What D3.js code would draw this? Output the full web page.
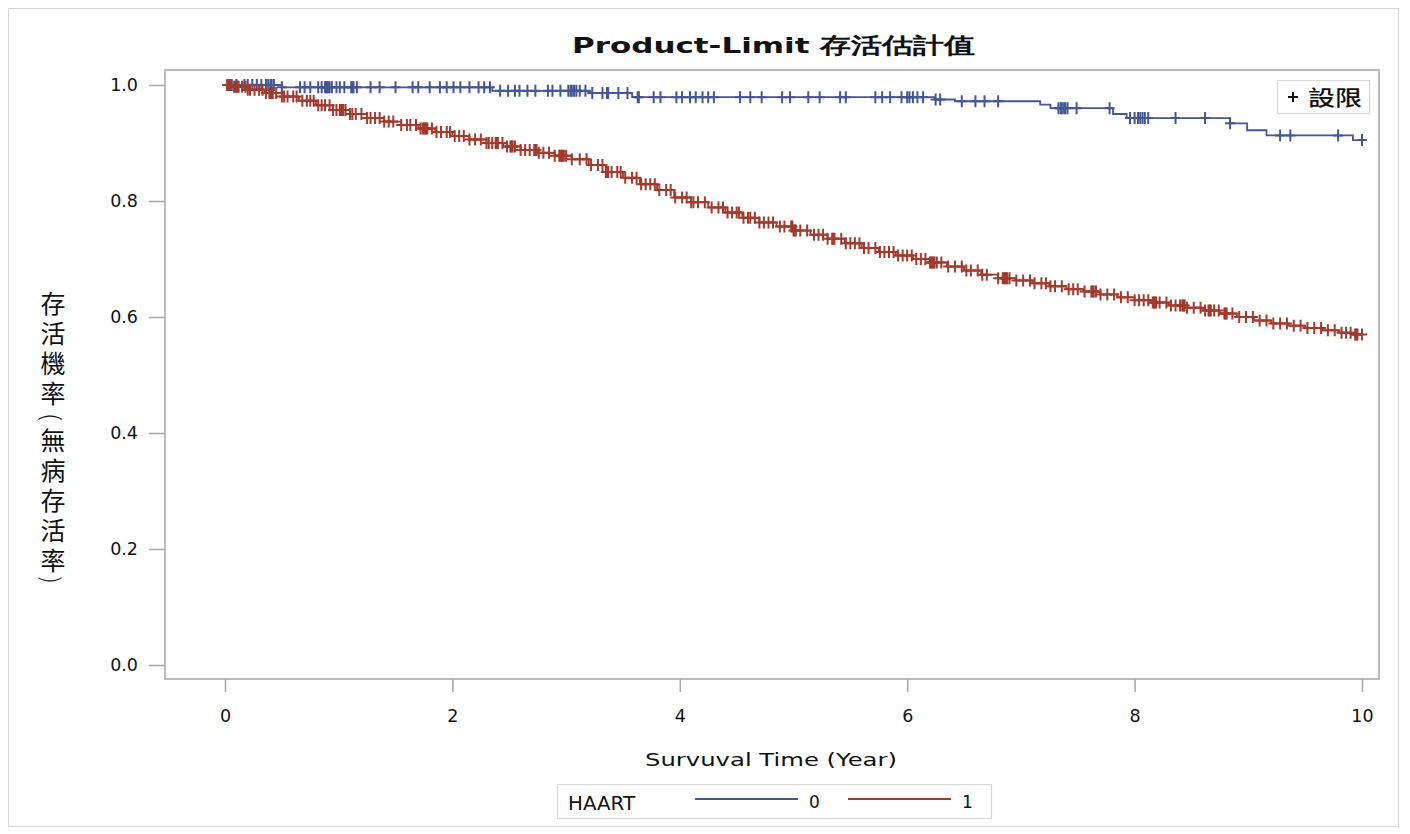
<!DOCTYPE html>
<html><head><meta charset="utf-8">
<script src="https://cdn.jsdelivr.net/npm/d3@7"></script>
<style>body{margin:0;background:#fff}svg{display:block}</style>
</head><body>
<svg id="chart" width="1410" height="834"></svg>
<script>
// ---- data ----
const title = "Product-Limit 存活估計值";
const xLabel = "Survuval Time (Year)";
const yLabelMain = "存活機率";
const yLabelInner = "無病存活率";
const yLabelParens = ["(", ")"];
const xTicks = [0, 2, 4, 6, 8, 10];
const yTicks = [0.0, 0.2, 0.4, 0.6, 0.8, 1.0];
const groups = ["0", "1"];
const legendTitle = "HAART";
const censorLabel = "設限";

// HAART = 0 : step times and survival
const blueTime = [0, 0.50, 2.35, 3.21, 3.58, 6.24, 6.42, 7.17, 7.26, 7.81, 7.93, 8.84, 8.99, 9.16, 9.92, 10.0];
const blueSurv = [1.0, 0.996, 0.990, 0.986, 0.979, 0.975, 0.972, 0.966, 0.960, 0.950, 0.943, 0.934, 0.922, 0.913, 0.905, 0.905];
const blueCensor = [0.02,0.03,0.04,0.05,0.06,0.10,0.17,0.20,0.24,0.28,0.32,0.36,0.38,0.40,0.41,0.43,0.50,0.66,0.70,0.75,0.82,0.85,0.88,0.89,0.90,0.91,0.92,0.94,0.98,1.01,1.05,1.11,1.12,1.13,1.16,1.28,1.36,1.50,1.65,1.70,1.80,1.89,1.95,2.01,2.07,2.15,2.23,2.28,2.33,2.42,2.49,2.55,2.59,2.66,2.73,2.84,2.88,2.95,3.02,3.04,3.05,3.07,3.09,3.12,3.17,3.23,3.32,3.36,3.37,3.46,3.54,3.63,3.64,3.77,3.83,3.97,4.02,4.09,4.14,4.20,4.25,4.30,4.53,4.62,4.72,4.90,4.97,5.13,5.23,5.41,5.46,5.72,5.78,5.85,5.95,6.00,6.02,6.05,6.09,6.14,6.25,6.29,6.48,6.60,6.68,6.80,7.33,7.35,7.36,7.38,7.39,7.41,7.49,7.78,7.96,8.00,8.03,8.05,8.07,8.09,8.12,8.36,8.62,8.84,9.28,9.37,9.79,10.0];

// HAART = 1 : step times and survival
const redTime = [0.00,0.08,0.20,0.35,0.50,0.65,0.80,0.95,1.10,1.25,1.40,1.55,1.70,1.85,2.00,2.15,2.30,2.45,2.60,2.75,2.90,3.05,3.20,3.35,3.50,3.65,3.80,3.95,4.10,4.25,4.40,4.55,4.70,4.85,5.00,5.15,5.30,5.45,5.60,5.75,5.90,6.05,6.20,6.35,6.50,6.65,6.80,6.95,7.10,7.25,7.40,7.55,7.70,7.85,8.00,8.15,8.30,8.45,8.60,8.75,8.90,9.05,9.20,9.35,9.50,9.65,9.80,9.92,10.0];
const redSurv = [1.000,0.997,0.992,0.986,0.980,0.973,0.965,0.957,0.950,0.943,0.937,0.931,0.925,0.919,0.912,0.906,0.900,0.894,0.888,0.883,0.878,0.872,0.862,0.850,0.840,0.829,0.819,0.806,0.798,0.789,0.780,0.771,0.763,0.756,0.749,0.742,0.735,0.727,0.719,0.712,0.706,0.700,0.694,0.687,0.680,0.673,0.667,0.663,0.658,0.653,0.648,0.644,0.639,0.634,0.629,0.625,0.620,0.616,0.611,0.606,0.600,0.594,0.589,0.585,0.581,0.577,0.573,0.570,0.570];
const redCensor = [0.02,0.03,0.04,0.05,0.08,0.09,0.10,0.11,0.12,0.15,0.18,0.20,0.22,0.26,0.30,0.33,0.36,0.39,0.40,0.41,0.42,0.45,0.50,0.52,0.55,0.60,0.63,0.68,0.72,0.75,0.78,0.82,0.85,0.88,0.92,0.95,0.98,1.01,1.02,1.03,1.04,1.06,1.10,1.12,1.15,1.20,1.25,1.28,1.32,1.36,1.40,1.44,1.48,1.55,1.60,1.63,1.68,1.72,1.74,1.75,1.76,1.77,1.78,1.82,1.86,1.90,1.95,1.98,2.02,2.06,2.10,2.15,2.20,2.25,2.30,2.32,2.35,2.38,2.39,2.40,2.44,2.48,2.51,2.52,2.53,2.55,2.60,2.64,2.68,2.72,2.73,2.74,2.76,2.80,2.85,2.90,2.94,2.95,2.96,2.97,2.98,3.00,3.05,3.12,3.18,3.22,3.28,3.32,3.35,3.36,3.37,3.40,3.45,3.48,3.52,3.58,3.62,3.66,3.70,3.74,3.78,3.82,3.88,3.92,3.96,4.02,4.06,4.10,4.12,4.16,4.22,4.28,4.34,4.38,4.42,4.46,4.50,4.52,4.56,4.60,4.62,4.66,4.70,4.74,4.78,4.82,4.88,4.92,4.98,4.99,5.00,5.01,5.02,5.06,5.12,5.18,5.22,5.26,5.30,5.34,5.35,5.36,5.42,5.46,5.50,5.54,5.58,5.62,5.66,5.72,5.76,5.80,5.84,5.88,5.92,5.96,6.00,6.04,6.08,6.12,6.16,6.20,6.21,6.22,6.23,6.24,6.26,6.30,6.36,6.42,6.48,6.52,6.56,6.62,6.66,6.70,6.80,6.84,6.85,6.86,6.87,6.88,6.90,6.96,7.02,7.08,7.12,7.18,7.22,7.26,7.30,7.36,7.42,7.46,7.50,7.56,7.62,7.63,7.64,7.66,7.70,7.76,7.82,7.88,7.94,8.00,8.04,8.08,8.12,8.16,8.17,8.18,8.19,8.22,8.28,8.32,8.36,8.40,8.42,8.43,8.44,8.46,8.52,8.58,8.62,8.65,8.66,8.67,8.70,8.74,8.79,8.80,8.81,8.86,8.92,8.98,9.04,9.10,9.16,9.22,9.28,9.34,9.40,9.46,9.52,9.58,9.64,9.70,9.76,9.82,9.86,9.90,9.94,9.95,9.96,10.0];

const colors = ["#445694", "#A23A2E"];

// ---- layout ----
const svg = d3.select("#chart");
const frame = {left: 165, right: 1379, top: 70, bottom: 679};
const x = d3.scaleLinear().domain([0, 10]).range([225, 1362]);
const y = d3.scaleLinear().domain([0, 1]).range([665, 85]);
const axisCol = "#a8acaf";
const font = "'DejaVu Sans', sans-serif";
const cjk = "'Noto Sans CJK TC', 'Noto Sans CJK SC', sans-serif";

// outer border
svg.append("rect").attr("x", 8.5).attr("y", 8.5).attr("width", 1390).attr("height", 818)
  .attr("fill", "none").attr("stroke", "#d6d6d6").attr("stroke-width", 1);

// title
svg.append("text").attr("x", 572).attr("y", 53)
  .attr("font-family", font).attr("font-weight", "bold").attr("font-size", 22)
  .attr("textLength", 403).attr("lengthAdjust", "spacingAndGlyphs")
  .attr("fill", "#111").text(title);

// plot frame
svg.append("rect").attr("x", frame.left).attr("y", frame.top)
  .attr("width", frame.right - frame.left).attr("height", frame.bottom - frame.top)
  .attr("fill", "none").attr("stroke", axisCol).attr("stroke-width", 1.6);

// axes
const xAxis = d3.axisBottom(x).tickValues(xTicks).tickFormat(d3.format("d")).tickSize(13).tickSizeOuter(0);
const gx = svg.append("g").attr("transform", `translate(0,${frame.bottom})`).call(xAxis);
gx.select(".domain").remove();
gx.selectAll("line").attr("stroke", axisCol).attr("stroke-width", 1.6);
gx.selectAll("text").attr("font-family", font).attr("font-size", 17.5).attr("fill", "#111").attr("dy", null).attr("y", 43);

const yAxis = d3.axisLeft(y).tickValues(yTicks).tickFormat(d3.format(".1f")).tickSize(16).tickSizeOuter(0);
const gy = svg.append("g").attr("transform", `translate(${frame.left},0)`).call(yAxis);
gy.select(".domain").remove();
gy.selectAll("line").attr("stroke", axisCol).attr("stroke-width", 1.6);
gy.selectAll("text").attr("font-family", font).attr("font-size", 17.5).attr("fill", "#111").attr("x", -27);

// axis labels
svg.append("text").attr("x", 645).attr("y", 766)
  .attr("font-family", font).attr("font-size", 18)
  .attr("textLength", 252).attr("lengthAdjust", "spacingAndGlyphs")
  .attr("fill", "#111").text(xLabel);

// vertical y label
const ylG = svg.append("g").attr("font-family", cjk).attr("fill", "#111");
ylG.append("text").attr("x", 53).attr("y", 291).style("writing-mode", "vertical-rl")
  .attr("font-size", 25).attr("letter-spacing", 5).text(yLabelMain);
ylG.append("text").attr("x", 53).attr("y", 428).style("writing-mode", "vertical-rl")
  .attr("font-size", 25).attr("letter-spacing", 5).text(yLabelInner);
[[yLabelParens[0], 417], [yLabelParens[1], 580]].forEach(([c, cy]) => {
  ylG.append("text").attr("x", 53).attr("y", cy)
    .attr("text-anchor", "middle").attr("dominant-baseline", "central")
    .attr("font-size", 24).attr("font-weight", 300)
    .attr("transform", `rotate(90,53,${cy})`).text(c);
});

// curves
const series = [
  {time: blueTime, surv: blueSurv, censor: blueCensor, color: colors[0]},
  {time: redTime, surv: redSurv, censor: redCensor, color: colors[1]}
];
const line = d3.line().x(d => x(d[0])).y(d => y(d[1])).curve(d3.curveStepAfter);
function survAt(s, t) {
  const i = d3.bisectRight(s.time, t) - 1;
  return s.surv[Math.max(0, i)];
}
series.forEach(s => {
  const pts = s.time.map((t, i) => [t, s.surv[i]]);
  svg.append("path").datum(pts).attr("d", line)
    .attr("fill", "none").attr("stroke", s.color).attr("stroke-width", 1.8);
  svg.append("g").selectAll("path").data(s.censor).join("path")
    .attr("d", t => {
      const cx = x(t), cy = y(survAt(s, t));
      return `M${cx - 5},${cy}H${cx + 5}M${cx},${cy - 6}V${cy + 6}`;
    })
    .attr("stroke", s.color).attr("stroke-width", 2).attr("fill", "none");
});

// censor legend (top right)
svg.append("rect").attr("x", 1277.5).attr("y", 80.5).attr("width", 92).attr("height", 33)
  .attr("fill", "#fff").attr("stroke", "#d8d8d8").attr("stroke-width", 1.2);
svg.append("path").attr("d", "M1288,97H1298M1293,92V102").attr("stroke", "#111").attr("stroke-width", 2);
svg.append("text").attr("x", 1308).attr("y", 105).attr("font-family", cjk)
  .attr("font-size", 21).attr("font-weight", 500)
  .attr("textLength", 54).attr("lengthAdjust", "spacingAndGlyphs")
  .attr("fill", "#111").text(censorLabel);

// group legend (bottom)
const lg = svg.append("g");
lg.append("rect").attr("x", 557.5).attr("y", 784.5).attr("width", 434).attr("height", 34)
  .attr("fill", "#fff").attr("stroke", "#d8d8d8").attr("stroke-width", 1.2);
lg.append("text").attr("x", 568).attr("y", 810).attr("font-family", font).attr("font-size", 19)
  .attr("textLength", 67).attr("lengthAdjust", "spacingAndGlyphs")
  .attr("fill", "#111").text(legendTitle);
const lx = [695, 848];
groups.forEach((g, i) => {
  lg.append("line").attr("x1", lx[i]).attr("x2", lx[i] + 103).attr("y1", 799).attr("y2", 799)
    .attr("stroke", colors[i]).attr("stroke-width", 1.8);
  lg.append("text").attr("x", lx[i] + 114).attr("y", 808).attr("font-family", font).attr("font-size", 17)
    .attr("fill", "#111").text(g);
});
</script>
</body></html>
